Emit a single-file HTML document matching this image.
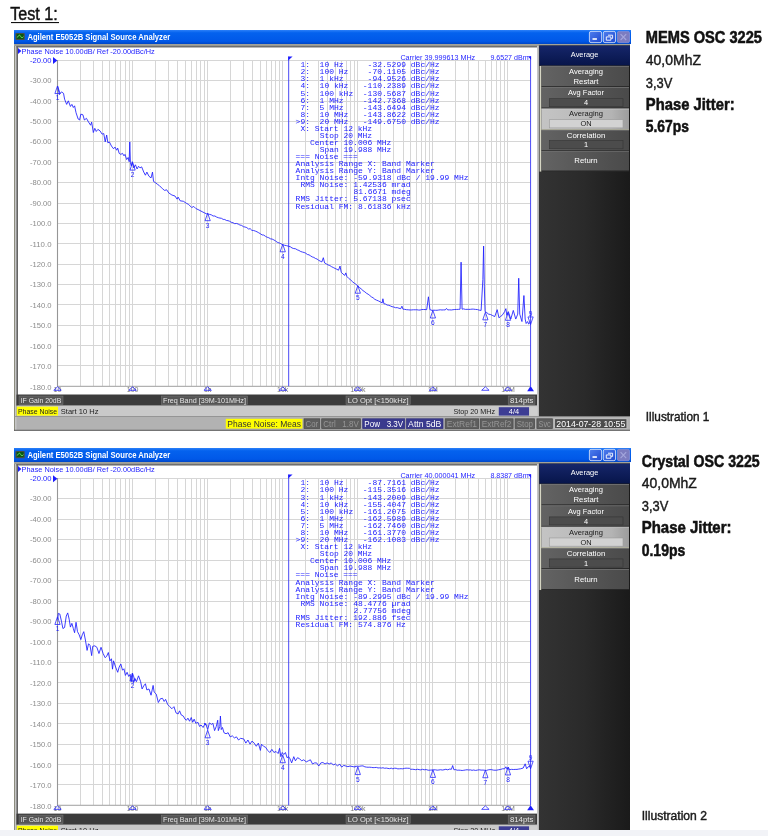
<!DOCTYPE html>
<html lang="en"><head><meta charset="utf-8"><title>Test 1 - Phase Noise</title>
<style>html,body{margin:0;padding:0;background:#fff;}body{width:768px;height:836px;overflow:hidden;position:relative;}svg{position:absolute;left:0;top:0;display:block;}text{white-space:pre;}</style>
</head><body>
<svg width="768" height="836" viewBox="0 0 768 836">
<defs>
<linearGradient id="tb" x1="0" y1="0" x2="0" y2="1"><stop offset="0" stop-color="#2c80f8"/><stop offset="0.2" stop-color="#0462ee"/><stop offset="0.8" stop-color="#0058e8"/><stop offset="1" stop-color="#0046c6"/></linearGradient>
<linearGradient id="bb" x1="0" y1="0" x2="1" y2="1"><stop offset="0" stop-color="#4f7fee"/><stop offset="1" stop-color="#1f48cf"/></linearGradient>
<linearGradient id="sp" x1="0" y1="0" x2="1" y2="0"><stop offset="0" stop-color="#333333"/><stop offset="0.5" stop-color="#2a2a2a"/><stop offset="1" stop-color="#1a1a1a"/></linearGradient>
<linearGradient id="hd" x1="0" y1="0" x2="0" y2="1"><stop offset="0" stop-color="#16266a"/><stop offset="1" stop-color="#07154a"/></linearGradient>
<linearGradient id="bt" x1="0" y1="0" x2="1" y2="0"><stop offset="0" stop-color="#636363"/><stop offset="1" stop-color="#4a4a4a"/></linearGradient>
<linearGradient id="bh" x1="0" y1="0" x2="1" y2="0"><stop offset="0" stop-color="#c4c4c4"/><stop offset="0.8" stop-color="#b4b4b4"/><stop offset="1" stop-color="#9c9c9c"/></linearGradient>
</defs>
<rect x="0.00" y="0.00" width="768.00" height="836.00" fill="#fff"/>
<text x="10.20" y="19.80" font-family='"Liberation Sans", Arial, sans-serif' font-size="18" fill="#111" textLength="47.60" lengthAdjust="spacingAndGlyphs" stroke="#111" stroke-width="0.45" xml:space="preserve">Test 1:</text>
<rect x="11.00" y="22.00" width="48.00" height="1.10" fill="#111"/>
<g transform="translate(0,30) scale(1,1) translate(0,-30)">
<rect x="14.00" y="44.00" width="616.00" height="386.60" fill="#b2b2b2"/>
<rect x="14.00" y="30.00" width="617.00" height="14.00" fill="url(#tb)"/>
<rect x="14.00" y="44.00" width="1.00" height="386.60" fill="#8c8c7e"/>
<rect x="15.00" y="44.00" width="1.50" height="386.00" fill="#c6c6c6"/>
<rect x="14.00" y="44.00" width="616.00" height="2.00" fill="#a2a29a"/>
<rect x="16.50" y="45.80" width="520.50" height="1.80" fill="#6e6e6e"/>
<rect x="16.50" y="46.00" width="1.50" height="370.30" fill="#666"/>
<rect x="18.00" y="47.60" width="519.00" height="347.00" fill="#fff"/>
<rect x="537.00" y="46.00" width="1.90" height="370.20" fill="#c6c6c6"/>
<rect x="15.4" y="32.9" width="9.4" height="7.2" rx="1" fill="#4c4f4c"/>
<rect x="16.60" y="33.90" width="7.00" height="5.20" fill="#0a5a10"/>
<path d="M16.9 37.4 C18 37.4 18.4 35.2 19.4 35.2 C20.6 35.2 20.8 37.8 22 37.8 C22.8 37.8 23 36.8 23.4 36.6" stroke="#7cf07c" stroke-width="0.8" fill="none"/>
<text x="27.40" y="39.80" font-family='"Liberation Sans", Arial, sans-serif' font-size="8.2" font-weight="bold" fill="#fff" textLength="142.80" lengthAdjust="spacingAndGlyphs" xml:space="preserve">Agilent E5052B Signal Source Analyzer</text>
<rect x="589.4" y="31.4" width="12.2" height="11.2" rx="1.6" fill="url(#bb)" stroke="#dfe8fb" stroke-width="0.8"/>
<rect x="603.3" y="31.4" width="12.2" height="11.2" rx="1.6" fill="url(#bb)" stroke="#dfe8fb" stroke-width="0.8"/>
<rect x="617.3" y="31.4" width="12.2" height="11.2" rx="1.6" fill="#7c7cc0" stroke="#8a8fd2" stroke-width="0.8"/>
<rect x="592.50" y="38.20" width="4.40" height="1.60" fill="#fff"/>
<path d="M608 35.2 h4.6 v3.2 h-1.4 M606.3 36.9 h4.6 v3.3 h-4.6 z" stroke="#fff" stroke-width="0.9" fill="none"/>
<path d="M620.6 34.2 l5.6 5.8 M626.2 34.2 l-5.6 5.8" stroke="#a4a6dc" stroke-width="1.1" fill="none"/>
<path d="M18 48 L21.4 51 L18 54 Z" fill="#1c1cff"/>
<text x="21.60" y="53.50" font-family='"Liberation Sans", Arial, sans-serif' font-size="7.2" fill="#1c1cff" textLength="133.20" lengthAdjust="spacingAndGlyphs" xml:space="preserve">Phase Noise 10.00dB/ Ref -20.00dBc/Hz</text>
<text x="475.20" y="59.60" font-family='"Liberation Sans", Arial, sans-serif' font-size="7.2" fill="#1c1cff" text-anchor="end" textLength="74.80" lengthAdjust="spacingAndGlyphs" xml:space="preserve">Carrier 39.999613 MHz</text>
<text x="528.60" y="59.60" font-family='"Liberation Sans", Arial, sans-serif' font-size="7.2" fill="#1c1cff" text-anchor="end" textLength="38.20" lengthAdjust="spacingAndGlyphs" xml:space="preserve">9.6527 dBm</text>
<path d="M80.50 60.45 V386.29 M93.50 60.45 V386.29 M102.50 60.45 V386.29 M109.50 60.45 V386.29 M115.50 60.45 V386.29 M120.50 60.45 V386.29 M125.50 60.45 V386.29 M129.50 60.45 V386.29 M132.50 60.45 V386.29 M155.50 60.45 V386.29 M168.50 60.45 V386.29 M177.50 60.45 V386.29 M185.50 60.45 V386.29 M191.50 60.45 V386.29 M196.50 60.45 V386.29 M200.50 60.45 V386.29 M204.50 60.45 V386.29 M207.50 60.45 V386.29 M230.50 60.45 V386.29 M243.50 60.45 V386.29 M252.50 60.45 V386.29 M260.50 60.45 V386.29 M266.50 60.45 V386.29 M271.50 60.45 V386.29 M275.50 60.45 V386.29 M279.50 60.45 V386.29 M282.50 60.45 V386.29 M305.50 60.45 V386.29 M318.50 60.45 V386.29 M327.50 60.45 V386.29 M335.50 60.45 V386.29 M341.50 60.45 V386.29 M346.50 60.45 V386.29 M350.50 60.45 V386.29 M354.50 60.45 V386.29 M357.50 60.45 V386.29 M380.50 60.45 V386.29 M393.50 60.45 V386.29 M403.50 60.45 V386.29 M410.50 60.45 V386.29 M416.50 60.45 V386.29 M421.50 60.45 V386.29 M425.50 60.45 V386.29 M429.50 60.45 V386.29 M432.50 60.45 V386.29 M455.50 60.45 V386.29 M468.50 60.45 V386.29 M478.50 60.45 V386.29 M485.50 60.45 V386.29 M491.50 60.45 V386.29 M496.50 60.45 V386.29 M500.50 60.45 V386.29 M504.50 60.45 V386.29 M507.50 60.45 V386.29 M57.5 60.500 H530.58 M57.5 80.500 H530.58 M57.5 101.500 H530.58 M57.5 121.500 H530.58 M57.5 141.500 H530.58 M57.5 162.500 H530.58 M57.5 182.500 H530.58 M57.5 203.500 H530.58 M57.5 223.500 H530.58 M57.5 243.500 H530.58 M57.5 264.500 H530.58 M57.5 284.500 H530.58 M57.5 304.500 H530.58 M57.5 325.500 H530.58 M57.5 345.500 H530.58 M57.5 365.500 H530.58 M57.5 386.500 H530.58" stroke="#d6d6d6" stroke-width="1" fill="none"/>
<path d="M57.5 59.95 V386.79" stroke="#969696" stroke-width="1.1" fill="none"/>
<path d="M57.5 386.29 H530.58" stroke="#a8a8a8" stroke-width="1" fill="none"/>
<text x="51.50" y="62.70" font-family='"Liberation Sans", Arial, sans-serif' font-size="6.8" fill="#1c1cff" text-anchor="end" textLength="21.60" lengthAdjust="spacingAndGlyphs" xml:space="preserve">-20.00</text>
<text x="51.50" y="83.13" font-family='"Liberation Sans", Arial, sans-serif' font-size="6.8" fill="#8c8c8c" text-anchor="end" textLength="21.60" lengthAdjust="spacingAndGlyphs" xml:space="preserve">-30.00</text>
<text x="51.50" y="103.56" font-family='"Liberation Sans", Arial, sans-serif' font-size="6.8" fill="#8c8c8c" text-anchor="end" textLength="21.60" lengthAdjust="spacingAndGlyphs" xml:space="preserve">-40.00</text>
<text x="51.50" y="123.99" font-family='"Liberation Sans", Arial, sans-serif' font-size="6.8" fill="#8c8c8c" text-anchor="end" textLength="21.60" lengthAdjust="spacingAndGlyphs" xml:space="preserve">-50.00</text>
<text x="51.50" y="144.42" font-family='"Liberation Sans", Arial, sans-serif' font-size="6.8" fill="#8c8c8c" text-anchor="end" textLength="21.60" lengthAdjust="spacingAndGlyphs" xml:space="preserve">-60.00</text>
<text x="51.50" y="164.85" font-family='"Liberation Sans", Arial, sans-serif' font-size="6.8" fill="#8c8c8c" text-anchor="end" textLength="21.60" lengthAdjust="spacingAndGlyphs" xml:space="preserve">-70.00</text>
<text x="51.50" y="185.28" font-family='"Liberation Sans", Arial, sans-serif' font-size="6.8" fill="#8c8c8c" text-anchor="end" textLength="21.60" lengthAdjust="spacingAndGlyphs" xml:space="preserve">-80.00</text>
<text x="51.50" y="205.71" font-family='"Liberation Sans", Arial, sans-serif' font-size="6.8" fill="#8c8c8c" text-anchor="end" textLength="21.60" lengthAdjust="spacingAndGlyphs" xml:space="preserve">-90.00</text>
<text x="51.50" y="226.14" font-family='"Liberation Sans", Arial, sans-serif' font-size="6.8" fill="#8c8c8c" text-anchor="end" textLength="21.60" lengthAdjust="spacingAndGlyphs" xml:space="preserve">-100.0</text>
<text x="51.50" y="246.57" font-family='"Liberation Sans", Arial, sans-serif' font-size="6.8" fill="#8c8c8c" text-anchor="end" textLength="21.60" lengthAdjust="spacingAndGlyphs" xml:space="preserve">-110.0</text>
<text x="51.50" y="267.00" font-family='"Liberation Sans", Arial, sans-serif' font-size="6.8" fill="#8c8c8c" text-anchor="end" textLength="21.60" lengthAdjust="spacingAndGlyphs" xml:space="preserve">-120.0</text>
<text x="51.50" y="287.43" font-family='"Liberation Sans", Arial, sans-serif' font-size="6.8" fill="#8c8c8c" text-anchor="end" textLength="21.60" lengthAdjust="spacingAndGlyphs" xml:space="preserve">-130.0</text>
<text x="51.50" y="307.86" font-family='"Liberation Sans", Arial, sans-serif' font-size="6.8" fill="#8c8c8c" text-anchor="end" textLength="21.60" lengthAdjust="spacingAndGlyphs" xml:space="preserve">-140.0</text>
<text x="51.50" y="328.29" font-family='"Liberation Sans", Arial, sans-serif' font-size="6.8" fill="#8c8c8c" text-anchor="end" textLength="21.60" lengthAdjust="spacingAndGlyphs" xml:space="preserve">-150.0</text>
<text x="51.50" y="348.72" font-family='"Liberation Sans", Arial, sans-serif' font-size="6.8" fill="#8c8c8c" text-anchor="end" textLength="21.60" lengthAdjust="spacingAndGlyphs" xml:space="preserve">-160.0</text>
<text x="51.50" y="369.15" font-family='"Liberation Sans", Arial, sans-serif' font-size="6.8" fill="#8c8c8c" text-anchor="end" textLength="21.60" lengthAdjust="spacingAndGlyphs" xml:space="preserve">-170.0</text>
<text x="51.50" y="389.58" font-family='"Liberation Sans", Arial, sans-serif' font-size="6.8" fill="#8c8c8c" text-anchor="end" textLength="21.60" lengthAdjust="spacingAndGlyphs" xml:space="preserve">-180.0</text>
<path d="M53 57.05 L57.4 60.55 L53 64.05 Z" fill="#1c1cff"/>
<text x="57.50" y="392.20" font-family='"Liberation Sans", Arial, sans-serif' font-size="7" fill="#7c7c7c" text-anchor="middle" xml:space="preserve">10</text>
<text x="132.58" y="392.20" font-family='"Liberation Sans", Arial, sans-serif' font-size="7" fill="#7c7c7c" text-anchor="middle" xml:space="preserve">100</text>
<text x="207.66" y="392.20" font-family='"Liberation Sans", Arial, sans-serif' font-size="7" fill="#7c7c7c" text-anchor="middle" xml:space="preserve">1k</text>
<text x="282.74" y="392.20" font-family='"Liberation Sans", Arial, sans-serif' font-size="7" fill="#7c7c7c" text-anchor="middle" xml:space="preserve">10k</text>
<text x="357.82" y="392.20" font-family='"Liberation Sans", Arial, sans-serif' font-size="7" fill="#7c7c7c" text-anchor="middle" xml:space="preserve">100k</text>
<text x="432.90" y="392.20" font-family='"Liberation Sans", Arial, sans-serif' font-size="7" fill="#7c7c7c" text-anchor="middle" xml:space="preserve">1M</text>
<text x="507.98" y="392.20" font-family='"Liberation Sans", Arial, sans-serif' font-size="7" fill="#7c7c7c" text-anchor="middle" xml:space="preserve">10M</text>
<text x="300.42" y="67.30" font-family='"Liberation Mono", monospace' font-size="7.8" fill="#1c1cff" textLength="139.18" lengthAdjust="spacingAndGlyphs" xml:space="preserve">1:  10 Hz     -32.5299 dBc/Hz</text>
<text x="300.42" y="74.36" font-family='"Liberation Mono", monospace' font-size="7.8" fill="#1c1cff" textLength="139.18" lengthAdjust="spacingAndGlyphs" xml:space="preserve">2:  100 Hz    -70.1105 dBc/Hz</text>
<text x="300.42" y="81.42" font-family='"Liberation Mono", monospace' font-size="7.8" fill="#1c1cff" textLength="139.18" lengthAdjust="spacingAndGlyphs" xml:space="preserve">3:  1 kHz     -94.9526 dBc/Hz</text>
<text x="300.42" y="88.48" font-family='"Liberation Mono", monospace' font-size="7.8" fill="#1c1cff" textLength="139.18" lengthAdjust="spacingAndGlyphs" xml:space="preserve">4:  10 kHz   -110.2389 dBc/Hz</text>
<text x="300.42" y="95.54" font-family='"Liberation Mono", monospace' font-size="7.8" fill="#1c1cff" textLength="139.18" lengthAdjust="spacingAndGlyphs" xml:space="preserve">5:  100 kHz  -130.5687 dBc/Hz</text>
<text x="300.42" y="102.60" font-family='"Liberation Mono", monospace' font-size="7.8" fill="#1c1cff" textLength="139.18" lengthAdjust="spacingAndGlyphs" xml:space="preserve">6:  1 MHz    -142.7368 dBc/Hz</text>
<text x="300.42" y="109.66" font-family='"Liberation Mono", monospace' font-size="7.8" fill="#1c1cff" textLength="139.18" lengthAdjust="spacingAndGlyphs" xml:space="preserve">7:  5 MHz    -143.6494 dBc/Hz</text>
<text x="300.42" y="116.72" font-family='"Liberation Mono", monospace' font-size="7.8" fill="#1c1cff" textLength="139.18" lengthAdjust="spacingAndGlyphs" xml:space="preserve">8:  10 MHz   -143.8622 dBc/Hz</text>
<text x="295.60" y="123.78" font-family='"Liberation Mono", monospace' font-size="7.8" fill="#1c1cff" textLength="144.00" lengthAdjust="spacingAndGlyphs" xml:space="preserve">&gt;9:  20 MHz   -149.6750 dBc/Hz</text>
<text x="300.42" y="130.84" font-family='"Liberation Mono", monospace' font-size="7.8" fill="#1c1cff" textLength="71.70" lengthAdjust="spacingAndGlyphs" xml:space="preserve">X: Start 12 kHz</text>
<text x="319.70" y="137.90" font-family='"Liberation Mono", monospace' font-size="7.8" fill="#1c1cff" textLength="52.42" lengthAdjust="spacingAndGlyphs" xml:space="preserve">Stop 20 MHz</text>
<text x="310.06" y="144.96" font-family='"Liberation Mono", monospace' font-size="7.8" fill="#1c1cff" textLength="81.34" lengthAdjust="spacingAndGlyphs" xml:space="preserve">Center 10.006 MHz</text>
<text x="319.70" y="152.02" font-family='"Liberation Mono", monospace' font-size="7.8" fill="#1c1cff" textLength="71.70" lengthAdjust="spacingAndGlyphs" xml:space="preserve">Span 19.988 MHz</text>
<text x="295.60" y="159.08" font-family='"Liberation Mono", monospace' font-size="7.8" fill="#1c1cff" textLength="62.06" lengthAdjust="spacingAndGlyphs" xml:space="preserve">=== Noise ===</text>
<text x="295.60" y="166.14" font-family='"Liberation Mono", monospace' font-size="7.8" fill="#1c1cff" textLength="139.18" lengthAdjust="spacingAndGlyphs" xml:space="preserve">Analysis Range X: Band Marker</text>
<text x="295.60" y="173.20" font-family='"Liberation Mono", monospace' font-size="7.8" fill="#1c1cff" textLength="139.18" lengthAdjust="spacingAndGlyphs" xml:space="preserve">Analysis Range Y: Band Marker</text>
<text x="295.60" y="180.26" font-family='"Liberation Mono", monospace' font-size="7.8" fill="#1c1cff" textLength="172.92" lengthAdjust="spacingAndGlyphs" xml:space="preserve">Intg Noise: -59.9318 dBc / 19.99 MHz</text>
<text x="300.42" y="187.32" font-family='"Liberation Mono", monospace' font-size="7.8" fill="#1c1cff" textLength="110.26" lengthAdjust="spacingAndGlyphs" xml:space="preserve">RMS Noise: 1.42536 mrad</text>
<text x="353.44" y="194.38" font-family='"Liberation Mono", monospace' font-size="7.8" fill="#1c1cff" textLength="57.24" lengthAdjust="spacingAndGlyphs" xml:space="preserve">81.6671 mdeg</text>
<text x="295.60" y="201.44" font-family='"Liberation Mono", monospace' font-size="7.8" fill="#1c1cff" textLength="115.08" lengthAdjust="spacingAndGlyphs" xml:space="preserve">RMS Jitter: 5.67138 psec</text>
<text x="295.60" y="208.50" font-family='"Liberation Mono", monospace' font-size="7.8" fill="#1c1cff" textLength="115.08" lengthAdjust="spacingAndGlyphs" xml:space="preserve">Residual FM: 8.61836 kHz</text>
<path d="M288.68 56.6 V386.29 M530.58 56.4 V386.29" stroke="#4040f5" stroke-width="0.95" fill="none"/>
<path d="M288.18 56.4 h4.4 l-4.4 4 z M531.08 56.2 h-3.2 l3.2 3.6 z" fill="#1c1cff"/>
<polyline points="57.71,86.25 59.38,94.58 61.46,91.88 63.54,93.33 64.58,99.17 66.67,104.38 68.33,100.83 70.42,106.46 71.88,104.38 73.33,107.50 74.58,105.83 76.04,112.71 78.12,118.96 79.58,120.00 80.83,114.17 82.92,114.79 84.38,120.00 86.46,118.33 88.54,122.08 90.62,125.21 91.67,122.08 93.33,132.50 94.79,128.33 96.25,131.46 97.92,129.38 100.00,130.83 102.08,134.17 103.75,133.54 105.21,141.88 106.67,135.00 107.92,142.92 109.38,141.88 111.46,146.04 113.54,148.75 115.00,147.08 116.67,150.21 117.71,148.12 119.17,153.33 120.83,154.38 122.50,153.33 123.96,155.83 125.00,154.38 126.67,159.58 128.12,157.50 129.17,161.67 129.79,141.88 130.42,162.71 131.25,165.83 132.29,161.67 133.75,167.92 135.42,164.79 137.08,168.96 138.54,166.25 140.00,167.92 141.67,166.88 143.75,172.08 145.42,175.21 146.88,172.08 148.96,176.25 151.04,177.92 152.50,172.08 153.54,181.46 155.21,182.50 157.29,184.17 159.38,185.62 162.50,188.75 164.58,190.42 166.67,189.79 168.75,192.92 171.88,195.00 175.00,196.04 177.08,199.17 178.12,197.08 180.21,200.83 183.33,201.25 186.46,203.33 188.54,204.38 191.67,207.50 193.75,206.46 195.83,208.54 198.96,210.00 202.08,211.67 204.17,212.71 206.25,213.75 207.71,213.96 209.50,214.39 211.29,214.82 213.08,216.00 214.88,215.99 216.67,217.08 218.29,217.70 219.91,218.09 221.53,218.33 223.15,219.41 224.77,219.47 226.39,220.48 228.01,220.66 229.63,221.26 231.25,222.29 232.99,222.73 234.72,223.69 236.46,223.44 238.19,224.07 239.93,225.04 241.67,225.42 243.37,226.67 245.08,227.02 246.78,227.58 248.48,228.97 250.19,228.71 251.89,230.36 253.60,230.49 255.30,231.09 257.01,231.81 258.71,232.78 260.42,233.75 262.10,234.93 263.78,235.07 265.46,236.34 267.15,237.24 268.83,237.78 270.51,238.80 272.20,239.10 273.88,239.93 275.56,240.93 277.24,242.28 278.93,242.84 280.61,243.55 282.29,244.58 284.38,245.23 286.46,245.64 288.54,246.25 290.28,246.72 292.01,247.96 293.75,248.55 295.49,248.75 297.22,249.80 298.96,250.44 300.69,251.52 302.43,252.06 304.17,252.50 305.78,253.23 307.39,254.49 309.00,254.83 310.61,255.86 312.22,256.92 313.83,257.40 315.44,258.46 317.05,259.04 318.66,260.27 320.27,261.18 321.88,261.88 323.33,257.71 324.58,262.92 326.33,263.87 328.07,264.96 329.82,265.54 331.56,266.68 333.31,267.53 335.05,268.43 336.80,269.27 338.54,270.21 340.00,266.04 341.25,272.29 343.02,274.06 344.79,275.42 345.83,272.92 346.88,276.46 348.70,278.39 350.52,279.78 352.34,281.56 354.17,283.12 355.79,284.13 357.42,285.67 359.28,287.33 361.13,288.85 362.99,290.60 364.84,291.85 366.49,293.28 368.14,294.20 369.79,295.49 371.44,296.90 373.09,297.75 374.74,299.27 376.60,300.18 378.45,300.93 380.31,301.83 382.16,302.98 382.90,298.78 383.89,303.73 385.53,304.06 387.16,305.07 388.79,305.28 390.43,305.95 392.06,306.69 393.79,307.03 395.52,307.71 397.25,307.63 398.99,308.25 400.72,308.67 401.95,306.20 402.94,309.17 404.73,309.35 406.51,309.70 408.29,309.81 410.07,309.98 411.85,309.91 413.50,309.75 415.15,309.81 416.80,309.74 418.45,310.03 420.10,310.05 421.75,309.54 423.40,309.52 425.05,309.53 426.69,309.66 428.43,296.80 429.91,309.66 432.14,310.41 433.78,310.18 435.42,310.27 437.05,310.27 438.69,310.02 440.33,309.80 441.97,309.99 443.61,309.89 445.25,309.91 446.49,308.43 447.72,309.91 449.49,309.84 451.26,309.97 453.03,309.71 454.79,309.50 456.56,309.45 458.33,309.38 460.09,309.17 461.08,262.16 462.07,309.17 463.73,308.90 465.40,309.41 467.06,309.34 468.72,309.39 470.38,309.35 472.04,309.10 473.70,309.17 475.56,309.42 477.41,309.55 479.27,310.18 481.12,310.41 482.86,279.48 483.60,246.08 484.34,286.90 485.08,311.64 486.81,312.62 488.55,314.12 490.40,314.48 492.26,315.35 494.73,316.59 497.20,309.66 498.94,317.83 500.54,316.42 502.15,315.35 504.63,311.64 505.86,308.67 506.85,315.35 508.34,311.64 510.81,319.06 513.29,310.41 515.76,319.06 517.74,314.12 518.73,278.24 519.72,314.12 521.94,321.54 523.92,295.56 525.16,319.06 526.15,323.52 527.63,321.54 528.62,324.01 529.86,322.78 530.60,322.03" fill="none" stroke="#1c1cff" stroke-width="0.85" stroke-linejoin="round"/>
<text x="57.50" y="100.47" font-family='"Liberation Sans", Arial, sans-serif' font-size="6.6" fill="#1c1cff" text-anchor="middle" xml:space="preserve">1</text>
<text x="132.58" y="177.00" font-family='"Liberation Sans", Arial, sans-serif' font-size="6.6" fill="#1c1cff" text-anchor="middle" xml:space="preserve">2</text>
<text x="207.66" y="227.59" font-family='"Liberation Sans", Arial, sans-serif' font-size="6.6" fill="#1c1cff" text-anchor="middle" xml:space="preserve">3</text>
<text x="282.74" y="258.72" font-family='"Liberation Sans", Arial, sans-serif' font-size="6.6" fill="#1c1cff" text-anchor="middle" xml:space="preserve">4</text>
<text x="357.82" y="300.12" font-family='"Liberation Sans", Arial, sans-serif' font-size="6.6" fill="#1c1cff" text-anchor="middle" xml:space="preserve">5</text>
<text x="432.90" y="324.90" font-family='"Liberation Sans", Arial, sans-serif' font-size="6.6" fill="#1c1cff" text-anchor="middle" xml:space="preserve">6</text>
<text x="485.38" y="326.76" font-family='"Liberation Sans", Arial, sans-serif' font-size="6.6" fill="#1c1cff" text-anchor="middle" xml:space="preserve">7</text>
<text x="507.98" y="327.20" font-family='"Liberation Sans", Arial, sans-serif' font-size="6.6" fill="#1c1cff" text-anchor="middle" xml:space="preserve">8</text>
<text x="530.58" y="315.73" font-family='"Liberation Sans", Arial, sans-serif' font-size="6.6" fill="#1c1cff" text-anchor="middle" xml:space="preserve">9</text>
<path d="M57.50 85.97 l2.6 7.6 h-5.2 z M57.50 386.79 l3.7 3.5 h-7.4 z M132.58 162.50 l2.6 7.6 h-5.2 z M132.58 386.79 l3.7 3.5 h-7.4 z M207.66 213.09 l2.6 7.6 h-5.2 z M207.66 386.79 l3.7 3.5 h-7.4 z M282.74 244.22 l2.6 7.6 h-5.2 z M282.74 386.79 l3.7 3.5 h-7.4 z M357.82 285.62 l2.6 7.6 h-5.2 z M357.82 386.79 l3.7 3.5 h-7.4 z M432.90 310.40 l2.6 7.6 h-5.2 z M432.90 386.79 l3.7 3.5 h-7.4 z M485.38 312.26 l2.6 7.6 h-5.2 z M485.38 386.79 l3.7 3.5 h-7.4 z M507.98 312.70 l2.6 7.6 h-5.2 z M507.98 386.79 l3.7 3.5 h-7.4 z M530.58 324.53 l2.6 -7.6 h-5.2 z" stroke="#1c1cff" stroke-width="0.85" fill="none" opacity="0.9"/>
<path d="M530.58 386.09 l3.4 5.2 h-6.8 z" fill="#1c1cff"/>
<rect x="16.50" y="394.60" width="520.50" height="11.00" fill="#3b3b3b"/>
<rect x="19" y="396" width="44.00" height="8.6" fill="#565656" stroke="#7a7a7a" stroke-width="0.5"/>
<text x="41.00" y="403.00" font-family='"Liberation Sans", Arial, sans-serif' font-size="7.2" fill="#e6e6e6" text-anchor="middle" textLength="40.60" lengthAdjust="spacingAndGlyphs" xml:space="preserve">IF Gain 20dB</text>
<rect x="161.3" y="396" width="86.30" height="8.6" fill="#565656" stroke="#7a7a7a" stroke-width="0.5"/>
<text x="204.45" y="403.00" font-family='"Liberation Sans", Arial, sans-serif' font-size="7.2" fill="#e6e6e6" text-anchor="middle" textLength="82.90" lengthAdjust="spacingAndGlyphs" xml:space="preserve">Freq Band [39M-101MHz]</text>
<rect x="346" y="396" width="64.20" height="8.6" fill="#565656" stroke="#7a7a7a" stroke-width="0.5"/>
<text x="378.10" y="403.00" font-family='"Liberation Sans", Arial, sans-serif' font-size="7.2" fill="#e6e6e6" text-anchor="middle" textLength="60.80" lengthAdjust="spacingAndGlyphs" xml:space="preserve">LO Opt [&lt;150kHz]</text>
<rect x="508.2" y="396" width="26.80" height="8.6" fill="#565656" stroke="#7a7a7a" stroke-width="0.5"/>
<text x="521.60" y="403.00" font-family='"Liberation Sans", Arial, sans-serif' font-size="7.2" fill="#e6e6e6" text-anchor="middle" textLength="23.40" lengthAdjust="spacingAndGlyphs" xml:space="preserve">814pts</text>
<rect x="16.50" y="405.60" width="521.10" height="10.60" fill="#c9c9c9"/>
<rect x="16.80" y="406.60" width="41.20" height="9.00" fill="#ffff00"/>
<text x="18.00" y="413.60" font-family='"Liberation Sans", Arial, sans-serif' font-size="7.4" fill="#222" textLength="39.00" lengthAdjust="spacingAndGlyphs" xml:space="preserve">Phase Noise</text>
<text x="60.80" y="413.60" font-family='"Liberation Sans", Arial, sans-serif' font-size="7.4" fill="#222" textLength="37.60" lengthAdjust="spacingAndGlyphs" xml:space="preserve">Start 10 Hz</text>
<text x="495.00" y="413.60" font-family='"Liberation Sans", Arial, sans-serif' font-size="7.4" fill="#222" text-anchor="end" textLength="41.60" lengthAdjust="spacingAndGlyphs" xml:space="preserve">Stop 20 MHz</text>
<rect x="498.80" y="407.20" width="30.20" height="8.40" fill="#3d3d94"/>
<text x="514.00" y="414.00" font-family='"Liberation Sans", Arial, sans-serif' font-size="7.4" fill="#fff" text-anchor="middle" xml:space="preserve">4/4</text>
<rect x="530.20" y="407.20" width="7.20" height="8.40" fill="#cfcfcf"/>
<rect x="14.00" y="416.20" width="616.00" height="0.80" fill="#8e8e8e"/>
<rect x="14.00" y="429.80" width="616.00" height="0.90" fill="#4e4e4e"/>
<rect x="225.80" y="418.80" width="76.60" height="9.80" fill="#ffff00"/>
<text x="264.10" y="426.80" font-family='"Liberation Sans", Arial, sans-serif' font-size="8.6" fill="#333" text-anchor="middle" textLength="73.60" lengthAdjust="spacingAndGlyphs" xml:space="preserve">Phase Noise: Meas</text>
<rect x="304" y="418.8" width="15.80" height="9.8" fill="#5e5e5e" stroke="#474747" stroke-width="0.7"/>
<text x="311.90" y="426.80" font-family='"Liberation Sans", Arial, sans-serif' font-size="8.6" fill="#959595" text-anchor="middle" textLength="12.60" lengthAdjust="spacingAndGlyphs" xml:space="preserve">Cor</text>
<rect x="321.7" y="418.8" width="38.70" height="9.8" fill="#5e5e5e" stroke="#474747" stroke-width="0.7"/>
<text x="341.05" y="426.80" font-family='"Liberation Sans", Arial, sans-serif' font-size="8.6" fill="#959595" text-anchor="middle" textLength="35.50" lengthAdjust="spacingAndGlyphs" xml:space="preserve">Ctrl   1.8V</text>
<rect x="362.7" y="418.8" width="42.10" height="9.8" fill="#3a3a8e" stroke="#30307c" stroke-width="0.7"/>
<text x="383.75" y="426.80" font-family='"Liberation Sans", Arial, sans-serif' font-size="8.6" fill="#fff" text-anchor="middle" textLength="38.90" lengthAdjust="spacingAndGlyphs" xml:space="preserve">Pow   3.3V</text>
<rect x="406.5" y="418.8" width="36.50" height="9.8" fill="#3a3a8e" stroke="#30307c" stroke-width="0.7"/>
<text x="424.75" y="426.80" font-family='"Liberation Sans", Arial, sans-serif' font-size="8.6" fill="#fff" text-anchor="middle" textLength="33.30" lengthAdjust="spacingAndGlyphs" xml:space="preserve">Attn 5dB</text>
<rect x="445.2" y="418.8" width="33.50" height="9.8" fill="#5e5e5e" stroke="#474747" stroke-width="0.7"/>
<text x="461.95" y="426.80" font-family='"Liberation Sans", Arial, sans-serif' font-size="8.6" fill="#959595" text-anchor="middle" textLength="30.30" lengthAdjust="spacingAndGlyphs" xml:space="preserve">ExtRef1</text>
<rect x="480.2" y="418.8" width="32.90" height="9.8" fill="#5e5e5e" stroke="#474747" stroke-width="0.7"/>
<text x="496.65" y="426.80" font-family='"Liberation Sans", Arial, sans-serif' font-size="8.6" fill="#959595" text-anchor="middle" textLength="29.70" lengthAdjust="spacingAndGlyphs" xml:space="preserve">ExtRef2</text>
<rect x="515.1" y="418.8" width="19.50" height="9.8" fill="#5e5e5e" stroke="#474747" stroke-width="0.7"/>
<text x="524.85" y="426.80" font-family='"Liberation Sans", Arial, sans-serif' font-size="8.6" fill="#959595" text-anchor="middle" textLength="16.30" lengthAdjust="spacingAndGlyphs" xml:space="preserve">Stop</text>
<rect x="536.9" y="418.8" width="15.50" height="9.8" fill="#5e5e5e" stroke="#474747" stroke-width="0.7"/>
<text x="544.65" y="426.80" font-family='"Liberation Sans", Arial, sans-serif' font-size="8.6" fill="#959595" text-anchor="middle" textLength="12.30" lengthAdjust="spacingAndGlyphs" xml:space="preserve">Svc</text>
<rect x="554.7" y="418.8" width="72.20" height="9.8" fill="#4c4c4c" stroke="#d0d0d0" stroke-width="0.7"/>
<text x="590.80" y="426.80" font-family='"Liberation Sans", Arial, sans-serif' font-size="8.6" fill="#fff" text-anchor="middle" textLength="69.00" lengthAdjust="spacingAndGlyphs" xml:space="preserve">2014-07-28 10:55</text>
<rect x="538.90" y="45.40" width="91.10" height="370.80" fill="url(#sp)"/>
<rect x="539.40" y="45.60" width="90.60" height="19.80" fill="url(#hd)"/>
<text x="584.60" y="57.10" font-family='"Liberation Sans", Arial, sans-serif' font-size="7.6" fill="#fff" text-anchor="middle" textLength="27.60" lengthAdjust="spacingAndGlyphs" xml:space="preserve">Average</text>
<rect x="539.60" y="66.00" width="1.80" height="105.60" fill="#d6d6c4"/>
<rect x="541.40" y="66.30" width="87.60" height="20.10" fill="url(#bt)"/>
<rect x="541.40" y="86.40" width="87.60" height="0.80" fill="#2a2a2a"/>
<rect x="541.40" y="65.90" width="87.60" height="0.80" fill="#7a7a7a"/>
<rect x="541.40" y="87.60" width="87.60" height="20.10" fill="url(#bt)"/>
<rect x="541.40" y="107.70" width="87.60" height="0.80" fill="#2a2a2a"/>
<rect x="541.40" y="87.20" width="87.60" height="0.80" fill="#7a7a7a"/>
<rect x="541.40" y="108.90" width="87.60" height="20.10" fill="url(#bh)"/>
<rect x="541.40" y="129.00" width="87.60" height="0.80" fill="#d8d8c0"/>
<rect x="541.40" y="108.50" width="87.60" height="0.80" fill="#d0d0d0"/>
<rect x="541.40" y="130.20" width="87.60" height="19.80" fill="url(#bt)"/>
<rect x="541.40" y="150.00" width="87.60" height="0.80" fill="#2a2a2a"/>
<rect x="541.40" y="129.80" width="87.60" height="0.80" fill="#7a7a7a"/>
<rect x="541.40" y="151.20" width="87.60" height="19.50" fill="url(#bt)"/>
<rect x="541.40" y="170.70" width="87.60" height="0.80" fill="#2a2a2a"/>
<rect x="541.40" y="150.80" width="87.60" height="0.80" fill="#7a7a7a"/>
<text x="586.00" y="74.20" font-family='"Liberation Sans", Arial, sans-serif' font-size="7.6" fill="#fff" text-anchor="middle" textLength="34.00" lengthAdjust="spacingAndGlyphs" xml:space="preserve">Averaging</text>
<text x="586.00" y="83.80" font-family='"Liberation Sans", Arial, sans-serif' font-size="7.6" fill="#fff" text-anchor="middle" textLength="25.00" lengthAdjust="spacingAndGlyphs" xml:space="preserve">Restart</text>
<text x="586.00" y="95.40" font-family='"Liberation Sans", Arial, sans-serif' font-size="7.6" fill="#fff" text-anchor="middle" textLength="36.00" lengthAdjust="spacingAndGlyphs" xml:space="preserve">Avg Factor</text>
<rect x="549.4" y="98.7" width="73.6" height="8" fill="#4c4c4c" stroke="#353535" stroke-width="0.6"/>
<text x="586.00" y="105.40" font-family='"Liberation Sans", Arial, sans-serif' font-size="7.4" fill="#fff" text-anchor="middle" xml:space="preserve">4</text>
<text x="586.00" y="116.40" font-family='"Liberation Sans", Arial, sans-serif' font-size="7.6" fill="#1a1a1a" text-anchor="middle" textLength="34.00" lengthAdjust="spacingAndGlyphs" xml:space="preserve">Averaging</text>
<rect x="549.4" y="119.7" width="73.6" height="8.2" fill="#d2d2d2" stroke="#9a9a9a" stroke-width="0.6"/>
<text x="586.00" y="126.40" font-family='"Liberation Sans", Arial, sans-serif' font-size="7.4" fill="#1a1a1a" text-anchor="middle" xml:space="preserve">ON</text>
<text x="586.00" y="137.80" font-family='"Liberation Sans", Arial, sans-serif' font-size="7.6" fill="#fff" text-anchor="middle" textLength="38.60" lengthAdjust="spacingAndGlyphs" xml:space="preserve">Correlation</text>
<rect x="549.4" y="140.6" width="73.6" height="8.2" fill="#4c4c4c" stroke="#353535" stroke-width="0.6"/>
<text x="586.00" y="147.40" font-family='"Liberation Sans", Arial, sans-serif' font-size="7.4" fill="#fff" text-anchor="middle" xml:space="preserve">1</text>
<text x="586.00" y="163.40" font-family='"Liberation Sans", Arial, sans-serif' font-size="7.6" fill="#fff" text-anchor="middle" textLength="23.40" lengthAdjust="spacingAndGlyphs" xml:space="preserve">Return</text>
</g>
<g transform="translate(0,448) scale(1,1.003) translate(0,-30)">
<rect x="14.00" y="44.00" width="616.00" height="386.60" fill="#b2b2b2"/>
<rect x="14.00" y="30.00" width="617.00" height="14.00" fill="url(#tb)"/>
<rect x="14.00" y="44.00" width="1.00" height="386.60" fill="#8c8c7e"/>
<rect x="15.00" y="44.00" width="1.50" height="386.00" fill="#c6c6c6"/>
<rect x="14.00" y="44.00" width="616.00" height="2.00" fill="#a2a29a"/>
<rect x="16.50" y="45.80" width="520.50" height="1.80" fill="#6e6e6e"/>
<rect x="16.50" y="46.00" width="1.50" height="370.30" fill="#666"/>
<rect x="18.00" y="47.60" width="519.00" height="347.00" fill="#fff"/>
<rect x="537.00" y="46.00" width="1.90" height="370.20" fill="#c6c6c6"/>
<rect x="15.4" y="32.9" width="9.4" height="7.2" rx="1" fill="#4c4f4c"/>
<rect x="16.60" y="33.90" width="7.00" height="5.20" fill="#0a5a10"/>
<path d="M16.9 37.4 C18 37.4 18.4 35.2 19.4 35.2 C20.6 35.2 20.8 37.8 22 37.8 C22.8 37.8 23 36.8 23.4 36.6" stroke="#7cf07c" stroke-width="0.8" fill="none"/>
<text x="27.40" y="39.80" font-family='"Liberation Sans", Arial, sans-serif' font-size="8.2" font-weight="bold" fill="#fff" textLength="142.80" lengthAdjust="spacingAndGlyphs" xml:space="preserve">Agilent E5052B Signal Source Analyzer</text>
<rect x="589.4" y="31.4" width="12.2" height="11.2" rx="1.6" fill="url(#bb)" stroke="#dfe8fb" stroke-width="0.8"/>
<rect x="603.3" y="31.4" width="12.2" height="11.2" rx="1.6" fill="url(#bb)" stroke="#dfe8fb" stroke-width="0.8"/>
<rect x="617.3" y="31.4" width="12.2" height="11.2" rx="1.6" fill="#7c7cc0" stroke="#8a8fd2" stroke-width="0.8"/>
<rect x="592.50" y="38.20" width="4.40" height="1.60" fill="#fff"/>
<path d="M608 35.2 h4.6 v3.2 h-1.4 M606.3 36.9 h4.6 v3.3 h-4.6 z" stroke="#fff" stroke-width="0.9" fill="none"/>
<path d="M620.6 34.2 l5.6 5.8 M626.2 34.2 l-5.6 5.8" stroke="#a4a6dc" stroke-width="1.1" fill="none"/>
<path d="M18 48 L21.4 51 L18 54 Z" fill="#1c1cff"/>
<text x="21.60" y="53.50" font-family='"Liberation Sans", Arial, sans-serif' font-size="7.2" fill="#1c1cff" textLength="133.20" lengthAdjust="spacingAndGlyphs" xml:space="preserve">Phase Noise 10.00dB/ Ref -20.00dBc/Hz</text>
<text x="475.20" y="59.60" font-family='"Liberation Sans", Arial, sans-serif' font-size="7.2" fill="#1c1cff" text-anchor="end" textLength="74.80" lengthAdjust="spacingAndGlyphs" xml:space="preserve">Carrier 40.000041 MHz</text>
<text x="528.60" y="59.60" font-family='"Liberation Sans", Arial, sans-serif' font-size="7.2" fill="#1c1cff" text-anchor="end" textLength="38.20" lengthAdjust="spacingAndGlyphs" xml:space="preserve">8.8387 dBm</text>
<path d="M80.50 60.45 V386.29 M93.50 60.45 V386.29 M102.50 60.45 V386.29 M109.50 60.45 V386.29 M115.50 60.45 V386.29 M120.50 60.45 V386.29 M125.50 60.45 V386.29 M129.50 60.45 V386.29 M132.50 60.45 V386.29 M155.50 60.45 V386.29 M168.50 60.45 V386.29 M177.50 60.45 V386.29 M185.50 60.45 V386.29 M191.50 60.45 V386.29 M196.50 60.45 V386.29 M200.50 60.45 V386.29 M204.50 60.45 V386.29 M207.50 60.45 V386.29 M230.50 60.45 V386.29 M243.50 60.45 V386.29 M252.50 60.45 V386.29 M260.50 60.45 V386.29 M266.50 60.45 V386.29 M271.50 60.45 V386.29 M275.50 60.45 V386.29 M279.50 60.45 V386.29 M282.50 60.45 V386.29 M305.50 60.45 V386.29 M318.50 60.45 V386.29 M327.50 60.45 V386.29 M335.50 60.45 V386.29 M341.50 60.45 V386.29 M346.50 60.45 V386.29 M350.50 60.45 V386.29 M354.50 60.45 V386.29 M357.50 60.45 V386.29 M380.50 60.45 V386.29 M393.50 60.45 V386.29 M403.50 60.45 V386.29 M410.50 60.45 V386.29 M416.50 60.45 V386.29 M421.50 60.45 V386.29 M425.50 60.45 V386.29 M429.50 60.45 V386.29 M432.50 60.45 V386.29 M455.50 60.45 V386.29 M468.50 60.45 V386.29 M478.50 60.45 V386.29 M485.50 60.45 V386.29 M491.50 60.45 V386.29 M496.50 60.45 V386.29 M500.50 60.45 V386.29 M504.50 60.45 V386.29 M507.50 60.45 V386.29 M57.5 60.409 H530.58 M57.5 80.349 H530.58 M57.5 101.286 H530.58 M57.5 121.226 H530.58 M57.5 142.164 H530.58 M57.5 162.104 H530.58 M57.5 183.041 H530.58 M57.5 202.981 H530.58 M57.5 222.921 H530.58 M57.5 243.858 H530.58 M57.5 263.799 H530.58 M57.5 284.736 H530.58 M57.5 304.676 H530.58 M57.5 325.613 H530.58 M57.5 345.553 H530.58 M57.5 365.494 H530.58 M57.5 386.431 H530.58" stroke="#d6d6d6" stroke-width="1" fill="none"/>
<path d="M57.5 59.95 V386.79" stroke="#969696" stroke-width="1.1" fill="none"/>
<path d="M57.5 386.29 H530.58" stroke="#a8a8a8" stroke-width="1" fill="none"/>
<text x="51.50" y="62.70" font-family='"Liberation Sans", Arial, sans-serif' font-size="6.8" fill="#1c1cff" text-anchor="end" textLength="21.60" lengthAdjust="spacingAndGlyphs" xml:space="preserve">-20.00</text>
<text x="51.50" y="83.13" font-family='"Liberation Sans", Arial, sans-serif' font-size="6.8" fill="#8c8c8c" text-anchor="end" textLength="21.60" lengthAdjust="spacingAndGlyphs" xml:space="preserve">-30.00</text>
<text x="51.50" y="103.56" font-family='"Liberation Sans", Arial, sans-serif' font-size="6.8" fill="#8c8c8c" text-anchor="end" textLength="21.60" lengthAdjust="spacingAndGlyphs" xml:space="preserve">-40.00</text>
<text x="51.50" y="123.99" font-family='"Liberation Sans", Arial, sans-serif' font-size="6.8" fill="#8c8c8c" text-anchor="end" textLength="21.60" lengthAdjust="spacingAndGlyphs" xml:space="preserve">-50.00</text>
<text x="51.50" y="144.42" font-family='"Liberation Sans", Arial, sans-serif' font-size="6.8" fill="#8c8c8c" text-anchor="end" textLength="21.60" lengthAdjust="spacingAndGlyphs" xml:space="preserve">-60.00</text>
<text x="51.50" y="164.85" font-family='"Liberation Sans", Arial, sans-serif' font-size="6.8" fill="#8c8c8c" text-anchor="end" textLength="21.60" lengthAdjust="spacingAndGlyphs" xml:space="preserve">-70.00</text>
<text x="51.50" y="185.28" font-family='"Liberation Sans", Arial, sans-serif' font-size="6.8" fill="#8c8c8c" text-anchor="end" textLength="21.60" lengthAdjust="spacingAndGlyphs" xml:space="preserve">-80.00</text>
<text x="51.50" y="205.71" font-family='"Liberation Sans", Arial, sans-serif' font-size="6.8" fill="#8c8c8c" text-anchor="end" textLength="21.60" lengthAdjust="spacingAndGlyphs" xml:space="preserve">-90.00</text>
<text x="51.50" y="226.14" font-family='"Liberation Sans", Arial, sans-serif' font-size="6.8" fill="#8c8c8c" text-anchor="end" textLength="21.60" lengthAdjust="spacingAndGlyphs" xml:space="preserve">-100.0</text>
<text x="51.50" y="246.57" font-family='"Liberation Sans", Arial, sans-serif' font-size="6.8" fill="#8c8c8c" text-anchor="end" textLength="21.60" lengthAdjust="spacingAndGlyphs" xml:space="preserve">-110.0</text>
<text x="51.50" y="267.00" font-family='"Liberation Sans", Arial, sans-serif' font-size="6.8" fill="#8c8c8c" text-anchor="end" textLength="21.60" lengthAdjust="spacingAndGlyphs" xml:space="preserve">-120.0</text>
<text x="51.50" y="287.43" font-family='"Liberation Sans", Arial, sans-serif' font-size="6.8" fill="#8c8c8c" text-anchor="end" textLength="21.60" lengthAdjust="spacingAndGlyphs" xml:space="preserve">-130.0</text>
<text x="51.50" y="307.86" font-family='"Liberation Sans", Arial, sans-serif' font-size="6.8" fill="#8c8c8c" text-anchor="end" textLength="21.60" lengthAdjust="spacingAndGlyphs" xml:space="preserve">-140.0</text>
<text x="51.50" y="328.29" font-family='"Liberation Sans", Arial, sans-serif' font-size="6.8" fill="#8c8c8c" text-anchor="end" textLength="21.60" lengthAdjust="spacingAndGlyphs" xml:space="preserve">-150.0</text>
<text x="51.50" y="348.72" font-family='"Liberation Sans", Arial, sans-serif' font-size="6.8" fill="#8c8c8c" text-anchor="end" textLength="21.60" lengthAdjust="spacingAndGlyphs" xml:space="preserve">-160.0</text>
<text x="51.50" y="369.15" font-family='"Liberation Sans", Arial, sans-serif' font-size="6.8" fill="#8c8c8c" text-anchor="end" textLength="21.60" lengthAdjust="spacingAndGlyphs" xml:space="preserve">-170.0</text>
<text x="51.50" y="389.58" font-family='"Liberation Sans", Arial, sans-serif' font-size="6.8" fill="#8c8c8c" text-anchor="end" textLength="21.60" lengthAdjust="spacingAndGlyphs" xml:space="preserve">-180.0</text>
<path d="M53 57.05 L57.4 60.55 L53 64.05 Z" fill="#1c1cff"/>
<text x="57.50" y="392.20" font-family='"Liberation Sans", Arial, sans-serif' font-size="7" fill="#7c7c7c" text-anchor="middle" xml:space="preserve">10</text>
<text x="132.58" y="392.20" font-family='"Liberation Sans", Arial, sans-serif' font-size="7" fill="#7c7c7c" text-anchor="middle" xml:space="preserve">100</text>
<text x="207.66" y="392.20" font-family='"Liberation Sans", Arial, sans-serif' font-size="7" fill="#7c7c7c" text-anchor="middle" xml:space="preserve">1k</text>
<text x="282.74" y="392.20" font-family='"Liberation Sans", Arial, sans-serif' font-size="7" fill="#7c7c7c" text-anchor="middle" xml:space="preserve">10k</text>
<text x="357.82" y="392.20" font-family='"Liberation Sans", Arial, sans-serif' font-size="7" fill="#7c7c7c" text-anchor="middle" xml:space="preserve">100k</text>
<text x="432.90" y="392.20" font-family='"Liberation Sans", Arial, sans-serif' font-size="7" fill="#7c7c7c" text-anchor="middle" xml:space="preserve">1M</text>
<text x="507.98" y="392.20" font-family='"Liberation Sans", Arial, sans-serif' font-size="7" fill="#7c7c7c" text-anchor="middle" xml:space="preserve">10M</text>
<text x="300.42" y="67.30" font-family='"Liberation Mono", monospace' font-size="7.8" fill="#1c1cff" textLength="139.18" lengthAdjust="spacingAndGlyphs" xml:space="preserve">1:  10 Hz     -87.7161 dBc/Hz</text>
<text x="300.42" y="74.36" font-family='"Liberation Mono", monospace' font-size="7.8" fill="#1c1cff" textLength="139.18" lengthAdjust="spacingAndGlyphs" xml:space="preserve">2:  100 Hz   -115.3516 dBc/Hz</text>
<text x="300.42" y="81.42" font-family='"Liberation Mono", monospace' font-size="7.8" fill="#1c1cff" textLength="139.18" lengthAdjust="spacingAndGlyphs" xml:space="preserve">3:  1 kHz    -143.2009 dBc/Hz</text>
<text x="300.42" y="88.48" font-family='"Liberation Mono", monospace' font-size="7.8" fill="#1c1cff" textLength="139.18" lengthAdjust="spacingAndGlyphs" xml:space="preserve">4:  10 kHz   -155.4047 dBc/Hz</text>
<text x="300.42" y="95.54" font-family='"Liberation Mono", monospace' font-size="7.8" fill="#1c1cff" textLength="139.18" lengthAdjust="spacingAndGlyphs" xml:space="preserve">5:  100 kHz  -161.2075 dBc/Hz</text>
<text x="300.42" y="102.60" font-family='"Liberation Mono", monospace' font-size="7.8" fill="#1c1cff" textLength="139.18" lengthAdjust="spacingAndGlyphs" xml:space="preserve">6:  1 MHz    -162.5989 dBc/Hz</text>
<text x="300.42" y="109.66" font-family='"Liberation Mono", monospace' font-size="7.8" fill="#1c1cff" textLength="139.18" lengthAdjust="spacingAndGlyphs" xml:space="preserve">7:  5 MHz    -162.7460 dBc/Hz</text>
<text x="300.42" y="116.72" font-family='"Liberation Mono", monospace' font-size="7.8" fill="#1c1cff" textLength="139.18" lengthAdjust="spacingAndGlyphs" xml:space="preserve">8:  10 MHz   -161.3770 dBc/Hz</text>
<text x="295.60" y="123.78" font-family='"Liberation Mono", monospace' font-size="7.8" fill="#1c1cff" textLength="144.00" lengthAdjust="spacingAndGlyphs" xml:space="preserve">&gt;9:  20 MHz   -162.1083 dBc/Hz</text>
<text x="300.42" y="130.84" font-family='"Liberation Mono", monospace' font-size="7.8" fill="#1c1cff" textLength="71.70" lengthAdjust="spacingAndGlyphs" xml:space="preserve">X: Start 12 kHz</text>
<text x="319.70" y="137.90" font-family='"Liberation Mono", monospace' font-size="7.8" fill="#1c1cff" textLength="52.42" lengthAdjust="spacingAndGlyphs" xml:space="preserve">Stop 20 MHz</text>
<text x="310.06" y="144.96" font-family='"Liberation Mono", monospace' font-size="7.8" fill="#1c1cff" textLength="81.34" lengthAdjust="spacingAndGlyphs" xml:space="preserve">Center 10.006 MHz</text>
<text x="319.70" y="152.02" font-family='"Liberation Mono", monospace' font-size="7.8" fill="#1c1cff" textLength="71.70" lengthAdjust="spacingAndGlyphs" xml:space="preserve">Span 19.988 MHz</text>
<text x="295.60" y="159.08" font-family='"Liberation Mono", monospace' font-size="7.8" fill="#1c1cff" textLength="62.06" lengthAdjust="spacingAndGlyphs" xml:space="preserve">=== Noise ===</text>
<text x="295.60" y="166.14" font-family='"Liberation Mono", monospace' font-size="7.8" fill="#1c1cff" textLength="139.18" lengthAdjust="spacingAndGlyphs" xml:space="preserve">Analysis Range X: Band Marker</text>
<text x="295.60" y="173.20" font-family='"Liberation Mono", monospace' font-size="7.8" fill="#1c1cff" textLength="139.18" lengthAdjust="spacingAndGlyphs" xml:space="preserve">Analysis Range Y: Band Marker</text>
<text x="295.60" y="180.26" font-family='"Liberation Mono", monospace' font-size="7.8" fill="#1c1cff" textLength="172.92" lengthAdjust="spacingAndGlyphs" xml:space="preserve">Intg Noise: -89.2995 dBc / 19.99 MHz</text>
<text x="300.42" y="187.32" font-family='"Liberation Mono", monospace' font-size="7.8" fill="#1c1cff" textLength="110.26" lengthAdjust="spacingAndGlyphs" xml:space="preserve">RMS Noise: 48.4776 µrad</text>
<text x="353.44" y="194.38" font-family='"Liberation Mono", monospace' font-size="7.8" fill="#1c1cff" textLength="57.24" lengthAdjust="spacingAndGlyphs" xml:space="preserve">2.77756 mdeg</text>
<text x="295.60" y="201.44" font-family='"Liberation Mono", monospace' font-size="7.8" fill="#1c1cff" textLength="115.08" lengthAdjust="spacingAndGlyphs" xml:space="preserve">RMS Jitter: 192.886 fsec</text>
<text x="295.60" y="208.50" font-family='"Liberation Mono", monospace' font-size="7.8" fill="#1c1cff" textLength="110.26" lengthAdjust="spacingAndGlyphs" xml:space="preserve">Residual FM: 574.876 Hz</text>
<path d="M288.68 56.6 V386.29 M530.58 56.4 V386.29" stroke="#4040f5" stroke-width="0.95" fill="none"/>
<path d="M288.18 56.4 h4.4 l-4.4 4 z M531.08 56.2 h-3.2 l3.2 3.6 z" fill="#1c1cff"/>
<polyline points="57.71,200.65 58.33,194.84 59.79,195.46 61.46,202.73 62.92,210.00 64.58,208.96 66.25,197.54 67.71,194.42 69.17,200.65 70.42,208.55 71.88,204.81 73.33,210.00 74.58,214.16 76.04,203.77 77.50,213.12 79.17,216.23 80.83,221.01 82.29,216.23 83.75,213.12 85.42,221.43 87.08,231.81 88.54,225.16 90.00,226.62 91.67,237.00 92.71,227.66 94.79,227.24 96.88,228.70 98.96,234.93 101.04,228.70 103.12,234.93 105.21,239.08 106.67,237.63 108.33,233.89 110.00,242.20 111.46,240.12 112.50,250.51 113.54,242.20 115.62,248.43 117.71,253.62 119.17,248.43 120.83,245.31 122.50,251.54 123.96,250.09 125.42,256.74 127.08,253.62 128.75,257.78 130.21,255.70 131.25,262.97 132.29,254.66 133.33,264.01 135.00,259.85 136.46,262.97 138.54,257.15 140.62,262.97 142.08,270.24 143.75,267.12 145.42,265.04 146.88,271.28 148.96,270.24 151.04,276.47 153.12,266.71 154.17,273.35 156.25,275.43 158.33,283.74 160.42,280.00 162.50,279.58 164.17,282.70 165.62,280.62 167.71,285.82 169.79,287.89 171.88,289.97 173.96,287.89 176.04,294.12 178.12,295.16 179.58,292.05 181.25,296.20 183.33,297.24 185.00,300.36 186.46,301.39 187.92,299.32 189.58,302.43 191.25,298.69 192.71,303.47 194.17,300.36 195.83,304.51 197.92,303.47 199.58,307.63 201.04,306.17 203.12,308.66 205.21,304.51 206.67,306.59 204.17,304.51 206.25,306.59 207.71,310.74 209.38,304.09 211.46,305.55 212.92,304.51 214.58,311.78 216.25,307.63 217.71,301.39 218.33,311.78 219.79,307.63 220.42,297.24 221.25,310.74 222.50,308.66 223.96,313.86 226.04,314.90 228.12,313.86 230.21,318.01 232.29,316.97 234.38,319.05 236.46,318.01 238.54,321.13 240.62,319.46 243.75,320.09 245.83,324.24 247.92,321.13 250.00,325.28 252.08,322.17 254.17,324.24 256.25,327.36 258.33,324.24 260.42,331.51 261.46,325.28 263.54,327.36 265.62,328.40 267.71,331.51 269.79,333.59 271.88,330.47 273.96,333.59 276.04,332.55 278.12,334.63 279.58,329.44 280.83,337.74 282.29,333.59 283.75,335.67 285.42,333.59 287.08,338.78 288.54,337.74 290.00,339.82 291.67,343.97 293.75,337.74 295.42,341.90 297.50,338.78 299.58,339.82 301.67,341.90 303.75,340.86 306.25,342.94 308.33,341.90 310.42,340.86 312.50,345.01 314.58,343.97 316.67,343.97 318.75,347.09 320.83,343.97 322.92,343.56 325.00,345.01 327.08,343.97 329.17,345.01 331.25,343.97 333.33,346.05 335.42,345.01 337.50,347.09 339.58,345.01 341.67,348.13 343.75,346.47 345.83,347.09 347.92,347.71 350.00,347.09 353.12,347.71 355.21,348.13 354.95,347.35 357.42,347.35 359.28,347.33 361.13,347.01 362.99,346.93 364.84,347.85 366.49,348.18 368.14,348.30 369.79,348.26 371.44,348.43 373.09,348.68 374.74,348.59 376.39,348.46 378.04,348.99 379.69,348.88 381.34,349.11 382.99,348.80 384.64,349.33 386.29,349.11 387.94,349.45 389.58,349.69 391.23,349.19 392.88,349.87 394.53,349.25 396.18,349.31 397.83,349.91 399.48,349.82 401.13,349.72 402.78,349.88 404.43,349.42 406.08,349.21 407.73,349.30 409.38,349.33 410.61,350.31 412.31,350.29 414.02,350.43 415.72,350.78 417.42,350.29 419.12,350.65 420.82,350.93 422.52,350.35 424.22,350.81 426.20,350.61 428.18,351.24 430.16,351.15 432.14,351.05 433.83,350.84 435.53,350.88 437.23,351.20 438.92,351.03 440.62,350.76 442.32,351.07 444.01,350.81 445.87,350.29 447.72,350.85 449.58,350.14 451.43,350.31 452.67,346.61 453.91,350.81 455.56,350.62 457.21,351.26 458.86,351.17 460.51,351.31 462.16,351.52 463.81,351.30 465.45,351.01 467.10,350.78 468.75,351.04 470.40,350.91 472.05,351.35 473.70,351.05 475.56,351.46 477.41,351.12 479.27,350.83 481.12,351.14 482.98,351.11 484.83,351.30 486.54,351.44 488.24,350.89 489.94,350.67 491.64,350.71 493.34,351.16 495.04,351.27 496.74,351.23 498.44,350.81 500.50,350.52 502.56,349.81 504.63,349.82 505.86,347.85 507.10,350.31 508.34,348.34 509.57,350.81 511.43,350.39 513.29,350.54 515.14,350.45 517.00,350.43 518.85,350.09 520.71,349.82 523.18,349.08 525.16,344.89 526.65,349.82 528.13,347.85 529.86,347.35 530.60,346.61" fill="none" stroke="#1c1cff" stroke-width="0.85" stroke-linejoin="round"/>
<text x="57.50" y="212.85" font-family='"Liberation Sans", Arial, sans-serif' font-size="6.6" fill="#1c1cff" text-anchor="middle" xml:space="preserve">1</text>
<text x="132.58" y="269.13" font-family='"Liberation Sans", Arial, sans-serif' font-size="6.6" fill="#1c1cff" text-anchor="middle" xml:space="preserve">2</text>
<text x="207.66" y="325.85" font-family='"Liberation Sans", Arial, sans-serif' font-size="6.6" fill="#1c1cff" text-anchor="middle" xml:space="preserve">3</text>
<text x="282.74" y="350.70" font-family='"Liberation Sans", Arial, sans-serif' font-size="6.6" fill="#1c1cff" text-anchor="middle" xml:space="preserve">4</text>
<text x="357.82" y="362.52" font-family='"Liberation Sans", Arial, sans-serif' font-size="6.6" fill="#1c1cff" text-anchor="middle" xml:space="preserve">5</text>
<text x="432.90" y="365.35" font-family='"Liberation Sans", Arial, sans-serif' font-size="6.6" fill="#1c1cff" text-anchor="middle" xml:space="preserve">6</text>
<text x="485.38" y="365.65" font-family='"Liberation Sans", Arial, sans-serif' font-size="6.6" fill="#1c1cff" text-anchor="middle" xml:space="preserve">7</text>
<text x="507.98" y="362.86" font-family='"Liberation Sans", Arial, sans-serif' font-size="6.6" fill="#1c1cff" text-anchor="middle" xml:space="preserve">8</text>
<text x="530.58" y="341.05" font-family='"Liberation Sans", Arial, sans-serif' font-size="6.6" fill="#1c1cff" text-anchor="middle" xml:space="preserve">9</text>
<path d="M57.50 198.35 l2.6 7.6 h-5.2 z M57.50 386.79 l3.7 3.5 h-7.4 z M132.58 254.63 l2.6 7.6 h-5.2 z M132.58 386.79 l3.7 3.5 h-7.4 z M207.66 311.35 l2.6 7.6 h-5.2 z M207.66 386.79 l3.7 3.5 h-7.4 z M282.74 336.20 l2.6 7.6 h-5.2 z M282.74 386.79 l3.7 3.5 h-7.4 z M357.82 348.02 l2.6 7.6 h-5.2 z M357.82 386.79 l3.7 3.5 h-7.4 z M432.90 350.85 l2.6 7.6 h-5.2 z M432.90 386.79 l3.7 3.5 h-7.4 z M485.38 351.15 l2.6 7.6 h-5.2 z M485.38 386.79 l3.7 3.5 h-7.4 z M507.98 348.36 l2.6 7.6 h-5.2 z M507.98 386.79 l3.7 3.5 h-7.4 z M530.58 349.85 l2.6 -7.6 h-5.2 z" stroke="#1c1cff" stroke-width="0.85" fill="none" opacity="0.9"/>
<path d="M530.58 386.09 l3.4 5.2 h-6.8 z" fill="#1c1cff"/>
<rect x="16.50" y="394.60" width="520.50" height="11.00" fill="#3b3b3b"/>
<rect x="19" y="396" width="44.00" height="8.6" fill="#565656" stroke="#7a7a7a" stroke-width="0.5"/>
<text x="41.00" y="403.00" font-family='"Liberation Sans", Arial, sans-serif' font-size="7.2" fill="#e6e6e6" text-anchor="middle" textLength="40.60" lengthAdjust="spacingAndGlyphs" xml:space="preserve">IF Gain 20dB</text>
<rect x="161.3" y="396" width="86.30" height="8.6" fill="#565656" stroke="#7a7a7a" stroke-width="0.5"/>
<text x="204.45" y="403.00" font-family='"Liberation Sans", Arial, sans-serif' font-size="7.2" fill="#e6e6e6" text-anchor="middle" textLength="82.90" lengthAdjust="spacingAndGlyphs" xml:space="preserve">Freq Band [39M-101MHz]</text>
<rect x="346" y="396" width="64.20" height="8.6" fill="#565656" stroke="#7a7a7a" stroke-width="0.5"/>
<text x="378.10" y="403.00" font-family='"Liberation Sans", Arial, sans-serif' font-size="7.2" fill="#e6e6e6" text-anchor="middle" textLength="60.80" lengthAdjust="spacingAndGlyphs" xml:space="preserve">LO Opt [&lt;150kHz]</text>
<rect x="508.2" y="396" width="26.80" height="8.6" fill="#565656" stroke="#7a7a7a" stroke-width="0.5"/>
<text x="521.60" y="403.00" font-family='"Liberation Sans", Arial, sans-serif' font-size="7.2" fill="#e6e6e6" text-anchor="middle" textLength="23.40" lengthAdjust="spacingAndGlyphs" xml:space="preserve">814pts</text>
<rect x="16.50" y="405.60" width="521.10" height="10.60" fill="#c9c9c9"/>
<rect x="16.80" y="406.60" width="41.20" height="9.00" fill="#ffff00"/>
<text x="18.00" y="413.60" font-family='"Liberation Sans", Arial, sans-serif' font-size="7.4" fill="#222" textLength="39.00" lengthAdjust="spacingAndGlyphs" xml:space="preserve">Phase Noise</text>
<text x="60.80" y="413.60" font-family='"Liberation Sans", Arial, sans-serif' font-size="7.4" fill="#222" textLength="37.60" lengthAdjust="spacingAndGlyphs" xml:space="preserve">Start 10 Hz</text>
<text x="495.00" y="413.60" font-family='"Liberation Sans", Arial, sans-serif' font-size="7.4" fill="#222" text-anchor="end" textLength="41.60" lengthAdjust="spacingAndGlyphs" xml:space="preserve">Stop 20 MHz</text>
<rect x="498.80" y="407.20" width="30.20" height="8.40" fill="#3d3d94"/>
<text x="514.00" y="414.00" font-family='"Liberation Sans", Arial, sans-serif' font-size="7.4" fill="#fff" text-anchor="middle" xml:space="preserve">4/4</text>
<rect x="530.20" y="407.20" width="7.20" height="8.40" fill="#cfcfcf"/>
<rect x="14.00" y="416.20" width="616.00" height="0.80" fill="#8e8e8e"/>
<rect x="14.00" y="429.80" width="616.00" height="0.90" fill="#4e4e4e"/>
<rect x="225.80" y="418.80" width="76.60" height="9.80" fill="#ffff00"/>
<text x="264.10" y="426.80" font-family='"Liberation Sans", Arial, sans-serif' font-size="8.6" fill="#333" text-anchor="middle" textLength="73.60" lengthAdjust="spacingAndGlyphs" xml:space="preserve">Phase Noise: Meas</text>
<rect x="304" y="418.8" width="15.80" height="9.8" fill="#5e5e5e" stroke="#474747" stroke-width="0.7"/>
<text x="311.90" y="426.80" font-family='"Liberation Sans", Arial, sans-serif' font-size="8.6" fill="#959595" text-anchor="middle" textLength="12.60" lengthAdjust="spacingAndGlyphs" xml:space="preserve">Cor</text>
<rect x="321.7" y="418.8" width="38.70" height="9.8" fill="#5e5e5e" stroke="#474747" stroke-width="0.7"/>
<text x="341.05" y="426.80" font-family='"Liberation Sans", Arial, sans-serif' font-size="8.6" fill="#959595" text-anchor="middle" textLength="35.50" lengthAdjust="spacingAndGlyphs" xml:space="preserve">Ctrl   1.8V</text>
<rect x="362.7" y="418.8" width="42.10" height="9.8" fill="#3a3a8e" stroke="#30307c" stroke-width="0.7"/>
<text x="383.75" y="426.80" font-family='"Liberation Sans", Arial, sans-serif' font-size="8.6" fill="#fff" text-anchor="middle" textLength="38.90" lengthAdjust="spacingAndGlyphs" xml:space="preserve">Pow   3.3V</text>
<rect x="406.5" y="418.8" width="36.50" height="9.8" fill="#3a3a8e" stroke="#30307c" stroke-width="0.7"/>
<text x="424.75" y="426.80" font-family='"Liberation Sans", Arial, sans-serif' font-size="8.6" fill="#fff" text-anchor="middle" textLength="33.30" lengthAdjust="spacingAndGlyphs" xml:space="preserve">Attn 5dB</text>
<rect x="445.2" y="418.8" width="33.50" height="9.8" fill="#5e5e5e" stroke="#474747" stroke-width="0.7"/>
<text x="461.95" y="426.80" font-family='"Liberation Sans", Arial, sans-serif' font-size="8.6" fill="#959595" text-anchor="middle" textLength="30.30" lengthAdjust="spacingAndGlyphs" xml:space="preserve">ExtRef1</text>
<rect x="480.2" y="418.8" width="32.90" height="9.8" fill="#5e5e5e" stroke="#474747" stroke-width="0.7"/>
<text x="496.65" y="426.80" font-family='"Liberation Sans", Arial, sans-serif' font-size="8.6" fill="#959595" text-anchor="middle" textLength="29.70" lengthAdjust="spacingAndGlyphs" xml:space="preserve">ExtRef2</text>
<rect x="515.1" y="418.8" width="19.50" height="9.8" fill="#5e5e5e" stroke="#474747" stroke-width="0.7"/>
<text x="524.85" y="426.80" font-family='"Liberation Sans", Arial, sans-serif' font-size="8.6" fill="#959595" text-anchor="middle" textLength="16.30" lengthAdjust="spacingAndGlyphs" xml:space="preserve">Stop</text>
<rect x="536.9" y="418.8" width="15.50" height="9.8" fill="#5e5e5e" stroke="#474747" stroke-width="0.7"/>
<text x="544.65" y="426.80" font-family='"Liberation Sans", Arial, sans-serif' font-size="8.6" fill="#959595" text-anchor="middle" textLength="12.30" lengthAdjust="spacingAndGlyphs" xml:space="preserve">Svc</text>
<rect x="554.7" y="418.8" width="72.20" height="9.8" fill="#4c4c4c" stroke="#d0d0d0" stroke-width="0.7"/>
<text x="590.80" y="426.80" font-family='"Liberation Sans", Arial, sans-serif' font-size="8.6" fill="#fff" text-anchor="middle" textLength="69.00" lengthAdjust="spacingAndGlyphs" xml:space="preserve">2014-07-28 10:55</text>
<rect x="538.90" y="45.40" width="91.10" height="370.80" fill="url(#sp)"/>
<rect x="539.40" y="45.60" width="90.60" height="19.80" fill="url(#hd)"/>
<text x="584.60" y="57.10" font-family='"Liberation Sans", Arial, sans-serif' font-size="7.6" fill="#fff" text-anchor="middle" textLength="27.60" lengthAdjust="spacingAndGlyphs" xml:space="preserve">Average</text>
<rect x="539.60" y="66.00" width="1.80" height="105.60" fill="#d6d6c4"/>
<rect x="541.40" y="66.30" width="87.60" height="20.10" fill="url(#bt)"/>
<rect x="541.40" y="86.40" width="87.60" height="0.80" fill="#2a2a2a"/>
<rect x="541.40" y="65.90" width="87.60" height="0.80" fill="#7a7a7a"/>
<rect x="541.40" y="87.60" width="87.60" height="20.10" fill="url(#bt)"/>
<rect x="541.40" y="107.70" width="87.60" height="0.80" fill="#2a2a2a"/>
<rect x="541.40" y="87.20" width="87.60" height="0.80" fill="#7a7a7a"/>
<rect x="541.40" y="108.90" width="87.60" height="20.10" fill="url(#bh)"/>
<rect x="541.40" y="129.00" width="87.60" height="0.80" fill="#d8d8c0"/>
<rect x="541.40" y="108.50" width="87.60" height="0.80" fill="#d0d0d0"/>
<rect x="541.40" y="130.20" width="87.60" height="19.80" fill="url(#bt)"/>
<rect x="541.40" y="150.00" width="87.60" height="0.80" fill="#2a2a2a"/>
<rect x="541.40" y="129.80" width="87.60" height="0.80" fill="#7a7a7a"/>
<rect x="541.40" y="151.20" width="87.60" height="19.50" fill="url(#bt)"/>
<rect x="541.40" y="170.70" width="87.60" height="0.80" fill="#2a2a2a"/>
<rect x="541.40" y="150.80" width="87.60" height="0.80" fill="#7a7a7a"/>
<text x="586.00" y="74.20" font-family='"Liberation Sans", Arial, sans-serif' font-size="7.6" fill="#fff" text-anchor="middle" textLength="34.00" lengthAdjust="spacingAndGlyphs" xml:space="preserve">Averaging</text>
<text x="586.00" y="83.80" font-family='"Liberation Sans", Arial, sans-serif' font-size="7.6" fill="#fff" text-anchor="middle" textLength="25.00" lengthAdjust="spacingAndGlyphs" xml:space="preserve">Restart</text>
<text x="586.00" y="95.40" font-family='"Liberation Sans", Arial, sans-serif' font-size="7.6" fill="#fff" text-anchor="middle" textLength="36.00" lengthAdjust="spacingAndGlyphs" xml:space="preserve">Avg Factor</text>
<rect x="549.4" y="98.7" width="73.6" height="8" fill="#4c4c4c" stroke="#353535" stroke-width="0.6"/>
<text x="586.00" y="105.40" font-family='"Liberation Sans", Arial, sans-serif' font-size="7.4" fill="#fff" text-anchor="middle" xml:space="preserve">4</text>
<text x="586.00" y="116.40" font-family='"Liberation Sans", Arial, sans-serif' font-size="7.6" fill="#1a1a1a" text-anchor="middle" textLength="34.00" lengthAdjust="spacingAndGlyphs" xml:space="preserve">Averaging</text>
<rect x="549.4" y="119.7" width="73.6" height="8.2" fill="#d2d2d2" stroke="#9a9a9a" stroke-width="0.6"/>
<text x="586.00" y="126.40" font-family='"Liberation Sans", Arial, sans-serif' font-size="7.4" fill="#1a1a1a" text-anchor="middle" xml:space="preserve">ON</text>
<text x="586.00" y="137.80" font-family='"Liberation Sans", Arial, sans-serif' font-size="7.6" fill="#fff" text-anchor="middle" textLength="38.60" lengthAdjust="spacingAndGlyphs" xml:space="preserve">Correlation</text>
<rect x="549.4" y="140.6" width="73.6" height="8.2" fill="#4c4c4c" stroke="#353535" stroke-width="0.6"/>
<text x="586.00" y="147.40" font-family='"Liberation Sans", Arial, sans-serif' font-size="7.4" fill="#fff" text-anchor="middle" xml:space="preserve">1</text>
<text x="586.00" y="163.40" font-family='"Liberation Sans", Arial, sans-serif' font-size="7.6" fill="#fff" text-anchor="middle" textLength="23.40" lengthAdjust="spacingAndGlyphs" xml:space="preserve">Return</text>
</g>
<text x="645.80" y="43.40" font-family='"Liberation Sans", Arial, sans-serif' font-size="17" font-weight="bold" fill="#111" textLength="116.20" lengthAdjust="spacingAndGlyphs" stroke="#111" stroke-width="0.55" xml:space="preserve">MEMS OSC 3225</text>
<text x="645.80" y="64.90" font-family='"Liberation Sans", Arial, sans-serif' font-size="15.5" fill="#1a1a1a" textLength="55.20" lengthAdjust="spacingAndGlyphs" stroke="#1a1a1a" stroke-width="0.45" xml:space="preserve">40,0MhZ</text>
<text x="645.80" y="87.90" font-family='"Liberation Sans", Arial, sans-serif' font-size="15.5" fill="#1a1a1a" textLength="26.60" lengthAdjust="spacingAndGlyphs" stroke="#1a1a1a" stroke-width="0.45" xml:space="preserve">3,3V</text>
<text x="645.80" y="109.80" font-family='"Liberation Sans", Arial, sans-serif' font-size="17" font-weight="bold" fill="#111" textLength="88.80" lengthAdjust="spacingAndGlyphs" stroke="#111" stroke-width="0.55" xml:space="preserve">Phase Jitter:</text>
<text x="645.80" y="132.30" font-family='"Liberation Sans", Arial, sans-serif' font-size="17" font-weight="bold" fill="#111" textLength="43.20" lengthAdjust="spacingAndGlyphs" stroke="#111" stroke-width="0.55" xml:space="preserve">5.67ps</text>
<text x="645.80" y="420.70" font-family='"Liberation Sans", Arial, sans-serif' font-size="13" fill="#1a1a1a" textLength="63.60" lengthAdjust="spacingAndGlyphs" stroke="#1a1a1a" stroke-width="0.45" xml:space="preserve">Illustration 1</text>
<text x="641.70" y="466.50" font-family='"Liberation Sans", Arial, sans-serif' font-size="17" font-weight="bold" fill="#111" textLength="118.00" lengthAdjust="spacingAndGlyphs" stroke="#111" stroke-width="0.55" xml:space="preserve">Crystal OSC 3225</text>
<text x="641.70" y="488.40" font-family='"Liberation Sans", Arial, sans-serif' font-size="15.5" fill="#1a1a1a" textLength="55.20" lengthAdjust="spacingAndGlyphs" stroke="#1a1a1a" stroke-width="0.45" xml:space="preserve">40,0MhZ</text>
<text x="641.70" y="510.60" font-family='"Liberation Sans", Arial, sans-serif' font-size="15.5" fill="#1a1a1a" textLength="26.60" lengthAdjust="spacingAndGlyphs" stroke="#1a1a1a" stroke-width="0.45" xml:space="preserve">3,3V</text>
<text x="641.70" y="533.20" font-family='"Liberation Sans", Arial, sans-serif' font-size="17" font-weight="bold" fill="#111" textLength="89.80" lengthAdjust="spacingAndGlyphs" stroke="#111" stroke-width="0.55" xml:space="preserve">Phase Jitter:</text>
<text x="641.70" y="556.00" font-family='"Liberation Sans", Arial, sans-serif' font-size="17" font-weight="bold" fill="#111" textLength="43.60" lengthAdjust="spacingAndGlyphs" stroke="#111" stroke-width="0.55" xml:space="preserve">0.19ps</text>
<text x="641.70" y="819.70" font-family='"Liberation Sans", Arial, sans-serif' font-size="13" fill="#1a1a1a" textLength="65.20" lengthAdjust="spacingAndGlyphs" stroke="#1a1a1a" stroke-width="0.45" xml:space="preserve">Illustration 2</text>
<rect x="0.00" y="830.00" width="768.00" height="6.00" fill="#f2f3f7"/>
</svg>
</body></html>
